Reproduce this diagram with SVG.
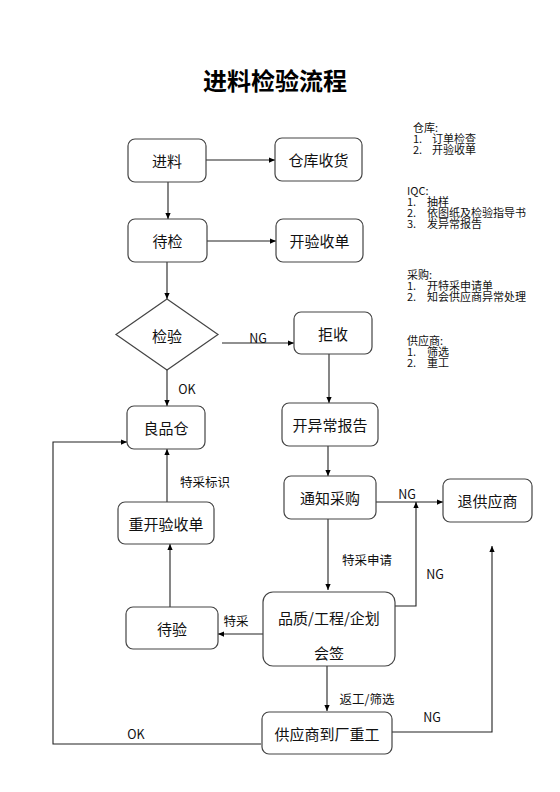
<svg xmlns="http://www.w3.org/2000/svg" width="560" height="792" viewBox="0 0 560 792">
<defs>
<marker id="ah" viewBox="0 0 8 8" refX="8" refY="4" markerWidth="6" markerHeight="6" orient="auto" markerUnits="userSpaceOnUse"><path d="M0,0.5 L8,4 L0,7.5 z" fill="#000"/></marker>
<style>
.box{fill:#fff;stroke:#444;stroke-width:1.2}
.t{font-family:"Noto Sans CJK SC","Noto Sans",sans-serif;font-size:15px;fill:#111;text-anchor:middle;dominant-baseline:central}
.l{font-family:"Noto Sans CJK SC","Noto Sans",sans-serif;font-size:12.5px;fill:#111;text-anchor:middle;dominant-baseline:central}
.n{font-family:"Noto Sans CJK SC","Noto Sans",sans-serif;font-size:11px;fill:#111;dominant-baseline:central}
.c{fill:none;stroke:#222;stroke-width:1.1}
</style>
</defs>
<rect width="560" height="792" fill="#fff"/>
<text x="275" y="79" style="font-family:'Noto Sans CJK SC',sans-serif;font-size:24px;font-weight:bold;text-anchor:middle;dominant-baseline:central">进料检验流程</text>

<g id="connectors">
<line class="c" x1="206" y1="160" x2="275" y2="160" marker-end="url(#ah)"/>
<line class="c" x1="168" y1="182" x2="168" y2="219" marker-end="url(#ah)"/>
<line class="c" x1="207" y1="241" x2="276" y2="241" marker-end="url(#ah)"/>
<line class="c" x1="167" y1="262" x2="167" y2="299" marker-end="url(#ah)"/>
<line class="c" x1="222" y1="343" x2="294" y2="343" marker-end="url(#ah)"/>
<line class="c" x1="167" y1="370" x2="167" y2="406" marker-end="url(#ah)"/>
<line class="c" x1="329" y1="354" x2="329" y2="403" marker-end="url(#ah)"/>
<line class="c" x1="328" y1="446" x2="328" y2="476" marker-end="url(#ah)"/>
<line class="c" x1="376" y1="502" x2="443" y2="502" marker-end="url(#ah)"/>
<line class="c" x1="328" y1="519" x2="328" y2="590" marker-end="url(#ah)"/>
<polyline class="c" points="395,606 416,606 416,502" marker-end="url(#ah)"/>
<line class="c" x1="263" y1="634" x2="218" y2="634" marker-end="url(#ah)"/>
<line class="c" x1="170" y1="607" x2="170" y2="544" marker-end="url(#ah)"/>
<line class="c" x1="167" y1="502" x2="167" y2="449" marker-end="url(#ah)"/>
<line class="c" x1="327" y1="666" x2="327" y2="711" marker-end="url(#ah)"/>
<polyline class="c" points="392,732 492,732 492,546" marker-end="url(#ah)"/>
<polyline class="c" points="261,744 53,744 53,442 127,442" marker-end="url(#ah)"/>
<text class="l" x="258" y="337">NG</text>
<text class="l" x="187" y="388">OK</text>
<text class="l" x="205" y="481">特采标识</text>
<text class="l" x="407" y="493">NG</text>
<text class="l" x="367" y="559">特采申请</text>
<text class="l" x="435" y="573">NG</text>
<text class="l" x="236" y="620">特采</text>
<text class="l" x="367" y="698">返工/筛选</text>
<text class="l" x="432" y="716">NG</text>
<text class="l" x="136" y="733">OK</text>
</g>

<g id="n1"><rect class="box" x="128" y="139" width="78" height="43" rx="7"/><text class="t" x="167" y="160.5">进料</text></g>
<g id="n2"><rect class="box" x="275" y="138" width="87" height="43" rx="7"/><text class="t" x="318.5" y="159.5">仓库收货</text></g>
<g id="n3"><rect class="box" x="128" y="219" width="79" height="43" rx="7"/><text class="t" x="167.5" y="240.5">待检</text></g>
<g id="n4"><rect class="box" x="276" y="219" width="87" height="43" rx="7"/><text class="t" x="319.5" y="240.5">开验收单</text></g>
<g id="n5"><polygon class="box" points="167,299 218,334.5 167,370 116,334.5"/><text class="t" x="167" y="335">检验</text></g>
<g id="n6"><rect class="box" x="294" y="312" width="78" height="42" rx="7"/><text class="t" x="333" y="333">拒收</text></g>
<g id="n7"><rect class="box" x="127" y="406" width="78" height="43" rx="7"/><text class="t" x="166" y="427.5">良品仓</text></g>
<g id="n8"><rect class="box" x="282" y="403" width="96" height="43" rx="7"/><text class="t" x="330" y="424.5">开异常报告</text></g>
<g id="n9"><rect class="box" x="284" y="476" width="92" height="43" rx="7"/><text class="t" x="330" y="497.5">通知采购</text></g>
<g id="n10"><rect class="box" x="443" y="479" width="89" height="43" rx="7"/><text class="t" x="487.5" y="500.5">退供应商</text></g>
<g id="n11"><rect class="box" x="118" y="502" width="96" height="42" rx="7"/><text class="t" x="166" y="523">重开验收单</text></g>
<g id="n12"><rect class="box" x="126" y="607" width="92" height="42" rx="7"/><text class="t" x="172" y="628">待验</text></g>
<g id="n13"><rect class="box" x="263" y="592" width="132" height="74" rx="10"/><text class="t" x="329" y="617">品质/工程/企划</text><text class="t" x="329" y="652">会签</text></g>
<g id="n14"><rect class="box" x="262" y="712" width="130" height="42" rx="7"/><text class="t" x="327" y="733">供应商到厂重工</text></g>

<g id="notes">
<text class="n" x="413" y="127">仓库:</text>
<text class="n" x="413" y="138">1.</text><text class="n" x="432" y="138">订单检查</text>
<text class="n" x="413" y="149">2.</text><text class="n" x="432" y="149">开验收单</text>
<text class="n" x="407" y="190">IQC:</text>
<text class="n" x="407" y="201">1.</text><text class="n" x="427" y="201">抽样</text>
<text class="n" x="407" y="212">2.</text><text class="n" x="427" y="212">依图纸及检验指导书</text>
<text class="n" x="407" y="223">3.</text><text class="n" x="427" y="223">发异常报告</text>
<text class="n" x="407" y="274">采购:</text>
<text class="n" x="407" y="285">1.</text><text class="n" x="427" y="285">开特采申请单</text>
<text class="n" x="407" y="296">2.</text><text class="n" x="427" y="296">知会供应商异常处理</text>
<text class="n" x="407" y="340">供应商:</text>
<text class="n" x="407" y="351">1.</text><text class="n" x="427" y="351">筛选</text>
<text class="n" x="407" y="362">2.</text><text class="n" x="427" y="362">重工</text>
</g>
</svg>
